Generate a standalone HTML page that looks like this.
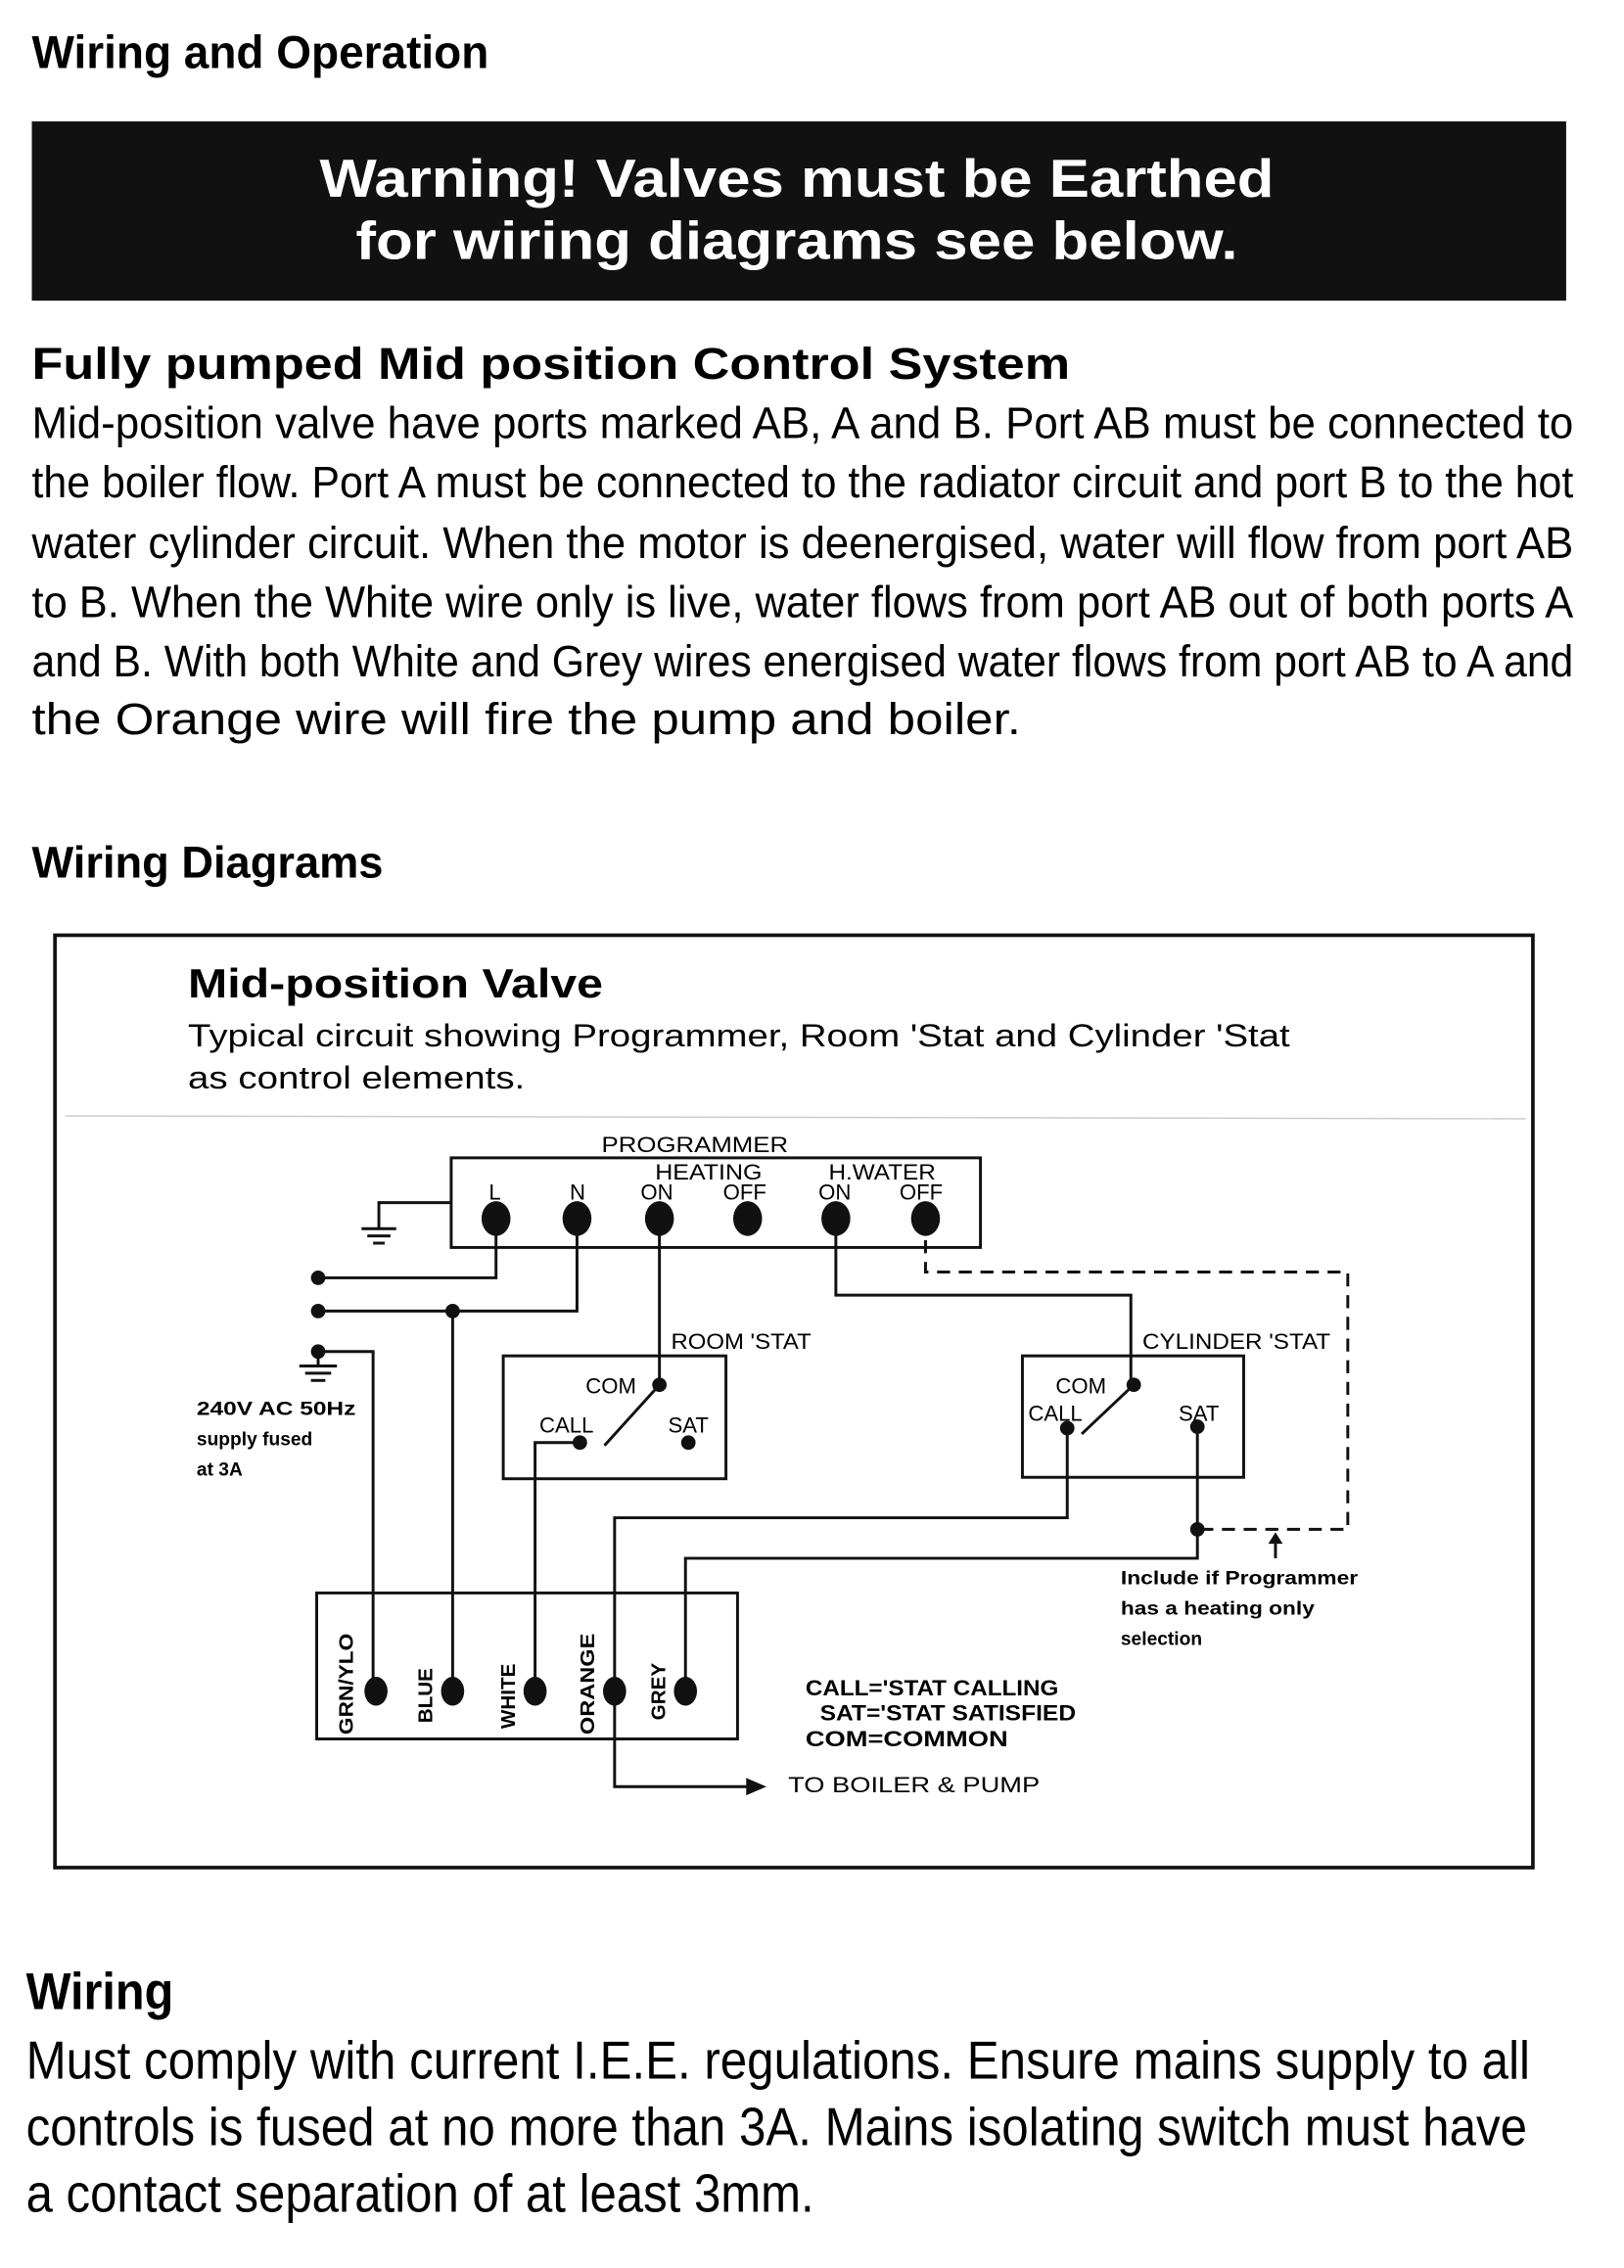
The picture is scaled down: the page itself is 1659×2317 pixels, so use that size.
<!DOCTYPE html>
<html><head><meta charset="utf-8"><style>html,body{margin:0;padding:0;background:#fff}svg{display:block}</style></head>
<body>
<svg width="1659" height="2317" viewBox="0 0 1123 1569" preserveAspectRatio="none" xmlns="http://www.w3.org/2000/svg" font-family="Liberation Sans, sans-serif">
<rect width="1135" height="1585" fill="#fff"/>
<text x="22" y="47" font-size="32" font-weight="bold" textLength="316" lengthAdjust="spacingAndGlyphs">Wiring and Operation</text>
<rect x="22" y="84" width="1061" height="124" fill="#111"/>
<text x="551" y="136" font-size="37" font-weight="bold" fill="#fff" text-anchor="middle" textLength="660" lengthAdjust="spacingAndGlyphs">Warning! Valves must be Earthed</text>
<text x="551" y="179" font-size="37" font-weight="bold" fill="#fff" text-anchor="middle" textLength="610" lengthAdjust="spacingAndGlyphs">for wiring diagrams see below.</text>
<text x="22" y="262" font-size="31" font-weight="bold" textLength="718" lengthAdjust="spacingAndGlyphs">Fully pumped Mid position Control System</text>
<g font-size="31">
<text x="22" y="303" textLength="1066" lengthAdjust="spacingAndGlyphs">Mid-position valve have ports marked AB, A and B. Port AB must be connected to</text>
<text x="22" y="344" textLength="1066" lengthAdjust="spacingAndGlyphs">the boiler flow. Port A must be connected to the radiator circuit and port B to the hot</text>
<text x="22" y="386" textLength="1066" lengthAdjust="spacingAndGlyphs">water cylinder circuit. When the motor is deenergised, water will flow from port AB</text>
<text x="22" y="427" textLength="1066" lengthAdjust="spacingAndGlyphs">to B. When the White wire only is live, water flows from port AB out of both ports A</text>
<text x="22" y="468" textLength="1066" lengthAdjust="spacingAndGlyphs">and B. With both White and Grey wires energised water flows from port AB to A and</text>
<text x="22" y="508" textLength="684" lengthAdjust="spacingAndGlyphs">the Orange wire will fire the pump and boiler.</text>
</g>
<text x="22" y="607" font-size="31" font-weight="bold" textLength="243" lengthAdjust="spacingAndGlyphs">Wiring Diagrams</text>
<rect x="38" y="647" width="1022" height="645" fill="none" stroke="#111" stroke-width="2.5"/>
<text x="130" y="690" font-size="28" font-weight="bold" textLength="287" lengthAdjust="spacingAndGlyphs">Mid-position Valve</text>
<text x="130" y="724" font-size="22" textLength="762" lengthAdjust="spacingAndGlyphs">Typical circuit showing Programmer, Room 'Stat and Cylinder 'Stat</text>
<text x="130" y="753" font-size="22" textLength="233" lengthAdjust="spacingAndGlyphs">as control elements.</text>
<line x1="45" y1="772" x2="1055" y2="774" stroke="#ccc" stroke-width="1"/>
<g font-size="15">
<text x="416" y="797" textLength="129" lengthAdjust="spacingAndGlyphs">PROGRAMMER</text>
<text x="453" y="816" textLength="74" lengthAdjust="spacingAndGlyphs">HEATING</text>
<text x="573" y="816" textLength="74" lengthAdjust="spacingAndGlyphs">H.WATER</text>
<text x="338" y="830">L</text><text x="394" y="830">N</text>
<text x="443" y="830">ON</text><text x="500" y="830">OFF</text>
<text x="566" y="830">ON</text><text x="622" y="830">OFF</text>
<text x="464" y="933" textLength="97" lengthAdjust="spacingAndGlyphs">ROOM 'STAT</text>
<text x="790" y="933" textLength="130" lengthAdjust="spacingAndGlyphs">CYLINDER 'STAT</text>
<text x="405" y="964">COM</text><text x="373" y="991">CALL</text><text x="462" y="991">SAT</text>
<text x="730" y="964">COM</text><text x="711" y="983">CALL</text><text x="815" y="983">SAT</text>
<text x="545" y="1240" textLength="174" lengthAdjust="spacingAndGlyphs">TO BOILER &amp; PUMP</text>
</g>
<g font-size="15" font-weight="bold">
<text x="557" y="1173" textLength="175" lengthAdjust="spacingAndGlyphs">CALL='STAT CALLING</text>
<text x="567" y="1190" textLength="177" lengthAdjust="spacingAndGlyphs">SAT='STAT SATISFIED</text>
<text x="557" y="1208" textLength="140" lengthAdjust="spacingAndGlyphs">COM=COMMON</text>
</g>
<g font-size="13" font-weight="bold">
<text x="136" y="979" textLength="110" lengthAdjust="spacingAndGlyphs">240V AC 50Hz</text>
<text x="136" y="1000">supply fused</text>
<text x="136" y="1021">at 3A</text>
<text x="775" y="1096" textLength="164" lengthAdjust="spacingAndGlyphs">Include if Programmer</text>
<text x="775" y="1117" textLength="134" lengthAdjust="spacingAndGlyphs">has a heating only</text>
<text x="775" y="1138">selection</text>
</g>
<g fill="none" stroke="#111" stroke-width="2">
<rect x="312" y="801" width="366" height="62"/>
<rect x="348" y="938" width="154" height="85"/>
<rect x="707" y="938" width="153" height="84"/>
<rect x="219" y="1102" width="291" height="101"/>
<polyline points="312,832 262,832 262,850"/>
<line x1="250" y1="850" x2="274" y2="850"/><line x1="254" y1="855" x2="270" y2="855"/><line x1="258" y1="860" x2="266" y2="860"/>
<polyline points="343,843 343,884 220,884"/>
<polyline points="399,843 399,907 220,907"/>
<line x1="313" y1="907" x2="313" y2="1170"/>
<polyline points="220,935 258,935 258,1170"/>
<line x1="220" y1="935" x2="220" y2="945"/>
<line x1="207" y1="945" x2="233" y2="945"/><line x1="211" y1="950" x2="229" y2="950"/><line x1="215" y1="955" x2="225" y2="955"/>
<line x1="456" y1="843" x2="456" y2="958"/>
<line x1="456" y1="958" x2="418" y2="1000"/>
<polyline points="401,998 370,998 370,1170"/>
<polyline points="578,843 578,896 782,896 782,958"/>
<line x1="784" y1="958" x2="748" y2="992"/>
<polyline points="738,988 738,1050 425,1050 425,1236 520,1236"/>
<polyline points="828,987 828,1078 474,1078 474,1170"/>
<polyline points="640,843 640,880 932,880 932,1058 828,1058" stroke-dasharray="9,6"/>
<line x1="882" y1="1078" x2="882" y2="1064"/>
</g>
<polygon points="530,1236 516,1230 516,1242" fill="#111"/>
<polygon points="882,1060 877,1068 887,1068" fill="#111"/>
<g fill="#111">
<ellipse cx="343" cy="843" rx="10" ry="12"/><ellipse cx="399" cy="843" rx="10" ry="12"/>
<ellipse cx="456" cy="843" rx="10" ry="12"/><ellipse cx="517" cy="843" rx="10" ry="12"/>
<ellipse cx="578" cy="843" rx="10" ry="12"/><ellipse cx="640" cy="843" rx="10" ry="12"/>
<circle cx="220" cy="884" r="5"/><circle cx="220" cy="907" r="5"/><circle cx="220" cy="935" r="5"/>
<circle cx="313" cy="907" r="5"/>
<circle cx="456" cy="958" r="5"/><circle cx="401" cy="998" r="5"/><circle cx="476" cy="998" r="5"/>
<circle cx="784" cy="958" r="5"/><circle cx="738" cy="988" r="5"/><circle cx="828" cy="987" r="5"/>
<circle cx="828" cy="1058" r="5"/>
<ellipse cx="260" cy="1170" rx="8" ry="10"/><ellipse cx="313" cy="1170" rx="8" ry="10"/>
<ellipse cx="370" cy="1170" rx="8" ry="10"/><ellipse cx="425" cy="1170" rx="8" ry="10"/>
<ellipse cx="474" cy="1170" rx="8" ry="10"/>
</g>
<g font-size="14" font-weight="bold">
<text transform="translate(244,1200) rotate(-90)" textLength="70" lengthAdjust="spacingAndGlyphs">GRN/YLO</text>
<text transform="translate(299,1192) rotate(-90)">BLUE</text>
<text transform="translate(356,1196) rotate(-90)">WHITE</text>
<text transform="translate(411,1200) rotate(-90)" textLength="70" lengthAdjust="spacingAndGlyphs">ORANGE</text>
<text transform="translate(460,1190) rotate(-90)">GREY</text>
</g>
<text x="18" y="1390" font-size="36" font-weight="bold" textLength="102" lengthAdjust="spacingAndGlyphs">Wiring</text>
<g font-size="37">
<text x="18" y="1438" textLength="1040" lengthAdjust="spacingAndGlyphs">Must comply with current I.E.E. regulations. Ensure mains supply to all</text>
<text x="18" y="1484" textLength="1038" lengthAdjust="spacingAndGlyphs">controls is fused at no more than 3A. Mains isolating switch must have</text>
<text x="18" y="1530" textLength="545" lengthAdjust="spacingAndGlyphs">a contact separation of at least 3mm.</text>
</g>
</svg>
</body></html>
